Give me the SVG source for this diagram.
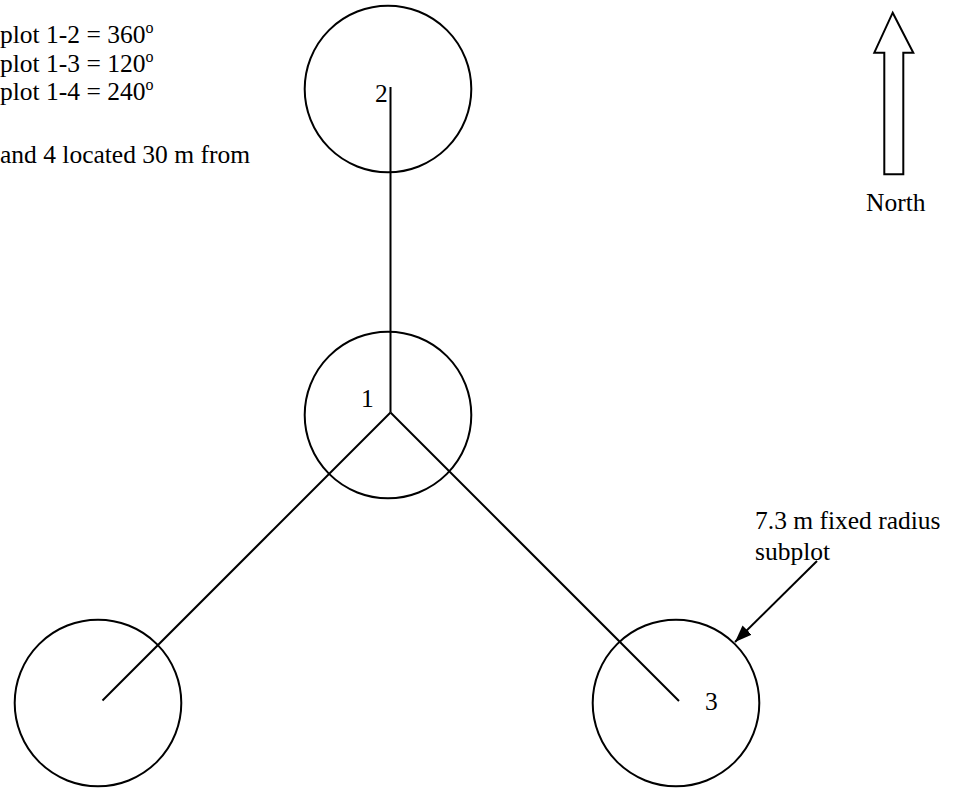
<svg xmlns="http://www.w3.org/2000/svg" width="957" height="790" viewBox="0 0 957 790">
<defs>
<style>
text{font-family:"Liberation Serif","Times New Roman",serif;font-size:25.5px;fill:#000}
.c{fill:none;stroke:#000;stroke-width:2}
.l{stroke:#000;stroke-width:2;fill:none}
</style>
<marker id="ah" markerWidth="17" markerHeight="13" refX="17" refY="6.5" orient="auto" markerUnits="userSpaceOnUse">
<path d="M0,0 L17,6.5 L0,13 Z" fill="#000"/>
</marker>
</defs>
<rect width="957" height="790" fill="#fff"/>
<g id="legend">
<text x="0" y="42.5">plot 1-2 = 360<tspan dy="-10" font-size="16">o</tspan></text>
<text x="0" y="71.5">plot 1-3 = 120<tspan dy="-10" font-size="16">o</tspan></text>
<text x="0" y="100">plot 1-4 = 240<tspan dy="-10" font-size="16">o</tspan></text>
<text x="0" y="163">and 4 located 30 m from</text>
</g>
<g id="connectors">
<line class="l" x1="390.5" y1="87" x2="390.5" y2="412.5"/>
<line class="l" x1="390.5" y1="412.5" x2="102.5" y2="700.5"/>
<line class="l" x1="390.5" y1="412.5" x2="679" y2="701"/>
<line class="l" x1="817" y1="561" x2="735" y2="642" stroke-width="1.5" marker-end="url(#ah)"/>
</g>
<g id="node2">
<circle class="c" cx="388" cy="89" r="83.3"/>
<text x="375" y="102">2</text>
</g>
<g id="node1">
<circle class="c" cx="388" cy="415" r="83.3"/>
<text x="361" y="407">1</text>
</g>
<g id="node4">
<circle class="c" cx="98" cy="703" r="83.3"/>
</g>
<g id="node3">
<circle class="c" cx="676" cy="703" r="83.3"/>
<text x="705" y="710">3</text>
</g>
<g id="north">
<polygon class="c" points="892.7,12.7 913.3,52.7 903.3,52.7 903.3,174.3 884.3,174.3 884.3,52.7 874.3,52.7"/>
<text x="866" y="211">North</text>
</g>
<g id="label">
<text x="755" y="529" font-size="26">7.3 m fixed radius</text>
<text x="755" y="560" font-size="26">subplot</text>
</g>
</svg>
